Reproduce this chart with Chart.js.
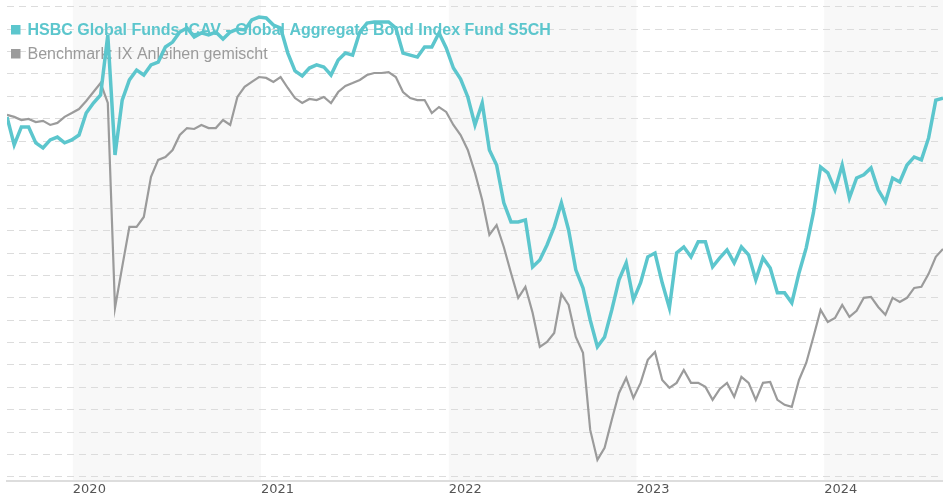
<!DOCTYPE html>
<html>
<head>
<meta charset="utf-8">
<script src="https://cdn.jsdelivr.net/npm/chart.js@4.4.0/dist/chart.umd.min.js"></script>
<style>
  html, body { margin: 0; padding: 0; background: #fff; }
  #wrap { position: relative; width: 943px; height: 500px; }
</style>
</head>
<body>
<div id="wrap"><canvas id="perf-chart"></canvas></div>
<script>
// fortnightly closes, performance in % since start
var startDate = '2019-08-26';
var stepDays = 14;
var fundName = 'HSBC Global Funds ICAV - Global Aggregate Bond Index Fund S5CH';
var benchName = 'Benchmark: IX Anleihen gemischt';
var yearTicks = [2020, 2021, 2022, 2023, 2024];
var shadedYears = [2020, 2022, 2024];

var fundValues = [
  0.08, -1.17, -0.37, -0.37, -1.08, -1.31, -0.95, -0.82, -1.08, -0.95,
  -0.73, 0.25, 0.70, 1.06, 3.74, -1.62, 0.83, 1.73, 2.17, 1.95,
  2.40, 2.53, 3.20, 3.42, 3.87, 4.05, 3.65, 3.83, 3.74, 3.87,
  3.56, 3.87, 4.00, 3.96, 4.41, 4.54, 4.50, 4.18, 4.05, 2.93,
  2.13, 1.91, 2.26, 2.40, 2.31, 1.95, 2.62, 2.93, 2.84, 3.87,
  4.27, 4.32, 4.32, 4.32, 4.05, 2.93, 2.84, 2.75, 3.20, 3.20,
  3.83, 3.16, 2.26, 1.77, 0.97, -0.28, 0.70, -1.40, -2.07, -3.76,
  -4.61, -4.61, -4.52, -6.62, -6.31, -5.64, -4.83, -3.76, -4.97, -6.75,
  -7.56, -8.99, -10.19, -9.75, -8.54, -7.20, -6.44, -8.09, -7.33, -6.17,
  -6.00, -7.33, -8.45, -6.00, -5.73, -6.17, -5.50, -5.50, -6.62, -6.22,
  -5.86, -6.44, -5.73, -6.08, -7.20, -6.22, -6.67, -7.78, -7.78, -8.23,
  -6.89, -5.77, -4.21, -2.16, -2.42, -3.18, -2.07, -3.54, -2.65, -2.51,
  -2.20, -3.18, -3.72, -2.65, -2.83, -2.07, -1.71, -1.84, -0.86, 0.83,
  0.92
];

var benchValues = [
  0.17, 0.08, -0.06, -0.01, -0.15, -0.10, -0.28, -0.19, 0.08, 0.25,
  0.43, 0.79, 1.19, 1.59, 0.70, -8.45, -6.62, -4.83, -4.83, -4.39,
  -2.60, -1.84, -1.71, -1.40, -0.73, -0.42, -0.46, -0.28, -0.42, -0.42,
  -0.06, -0.28, 0.97, 1.42, 1.64, 1.86, 1.82, 1.64, 1.86, 1.37,
  0.92, 0.70, 0.88, 0.83, 0.97, 0.70, 1.19, 1.46, 1.59, 1.73,
  1.95, 2.04, 2.04, 2.08, 1.86, 1.19, 0.92, 0.83, 0.83, 0.25,
  0.52, 0.30, -0.28, -0.73, -1.40, -2.42, -3.63, -5.19, -4.75, -5.73,
  -6.89, -8.00, -7.51, -8.67, -10.19, -9.97, -9.57, -7.83, -8.32, -9.75,
  -10.46, -13.90, -15.24, -14.70, -13.45, -12.25, -11.58, -12.47, -11.80, -10.77,
  -10.42, -11.67, -12.02, -11.80, -11.22, -11.80, -11.80, -11.98, -12.56, -12.07,
  -11.80, -12.42, -11.53, -11.80, -12.56, -11.80, -11.76, -12.56, -12.78, -12.87,
  -11.67, -10.91, -9.75, -8.54, -9.08, -8.90, -8.32, -8.85, -8.58, -8.00,
  -7.96, -8.41, -8.76, -8.00, -8.19, -8.00, -7.56, -7.51, -6.93, -6.17,
  -5.82
];

var tealColor = '#5cc6cd';
var greyColor = '#9b9b9b';
var DAY = 86400000;

function dayOf(y, m, d) {
  return Date.UTC(y, m, d) / DAY;
}

var p = startDate.split('-');
var firstDay = dayOf(+p[0], +p[1] - 1, +p[2]);
var lastDay = firstDay + (fundValues.length - 1) * stepDays;

function toPoints(values) {
  return values.map(function (v, i) {
    return { x: firstDay + i * stepDays, y: v };
  });
}

// light grey background for every other year
var yearBands = {
  id: 'yearBands',
  beforeDraw: function (chart) {
    var ctx = chart.ctx, area = chart.chartArea, xs = chart.scales.x;
    ctx.save();
    ctx.fillStyle = '#f8f8f8';
    shadedYears.forEach(function (y) {
      var x0 = Math.max(area.left, xs.getPixelForValue(dayOf(y, 0, 1)));
      var x1 = Math.min(area.right, xs.getPixelForValue(dayOf(y + 1, 0, 1)));
      if (x1 > x0) ctx.fillRect(x0, 0, x1 - x0, area.bottom);
    });
    ctx.restore();
  }
};

// legend sits inside the plot, under the lines
var insideLegend = {
  id: 'insideLegend',
  beforeDatasetsDraw: function (chart) {
    var ctx = chart.ctx;
    ctx.save();
    ctx.textBaseline = 'alphabetic';
    ctx.textAlign = 'left';

    ctx.fillStyle = tealColor;
    ctx.fillRect(11, 25, 9.5, 9.5);
    ctx.font = 'bold 16px "Liberation Sans", Arial, sans-serif';
    ctx.fillText(fundName, 27.5, 35);

    ctx.fillStyle = greyColor;
    ctx.fillRect(11, 49, 9.5, 9.5);
    ctx.font = '16px "Liberation Sans", Arial, sans-serif';
    ctx.fillText(benchName, 27.5, 59.3);
    ctx.restore();
  }
};

var ctx = document.getElementById('perf-chart').getContext('2d');

var chart = new Chart(ctx, {
  type: 'line',
  data: {
    datasets: [{
      label: fundName,
      data: toPoints(fundValues),
      borderColor: tealColor,
      borderWidth: 3.5,
      pointRadius: 0,
      tension: 0,
      fill: false
    }, {
      label: benchName,
      data: toPoints(benchValues),
      borderColor: greyColor,
      borderWidth: 2.2,
      pointRadius: 0,
      tension: 0,
      fill: false
    }]
  },
  options: {
    responsive: true,
    maintainAspectRatio: false,
    animation: false,
    layout: { padding: { left: 7, right: 0, top: 0, bottom: 3 } },
    plugins: {
      legend: { display: false },
      tooltip: { enabled: false }
    },
    scales: {
      x: {
        type: 'linear',
        min: firstDay,
        max: lastDay,
        afterBuildTicks: function (axis) {
          axis.ticks = yearTicks.map(function (y) { return { value: dayOf(y, 0, 1) }; });
        },
        ticks: {
          align: 'start',
          autoSkip: false,
          maxRotation: 0,
          padding: 0,
          color: '#555555',
          font: { family: '"DejaVu Sans", Verdana, sans-serif', size: 13 },
          callback: function (v) { return new Date(v * DAY).getUTCFullYear(); }
        },
        grid: { display: false, drawTicks: false },
        border: { display: true, color: '#dddddd', width: 2 }
      },
      y: {
        min: -16.2,
        max: 5.3,
        afterBuildTicks: function (axis) {
          var t = [];
          for (var v = -16; v <= 5; v++) t.push({ value: v });
          axis.ticks = t;
        },
        ticks: { display: false },
        grid: { color: '#dcdcdc', lineWidth: 1, drawTicks: false },
        border: { display: false, dash: [7, 5] }
      }
    }
  },
  plugins: [yearBands, insideLegend]
});
</script>
</body>
</html>
